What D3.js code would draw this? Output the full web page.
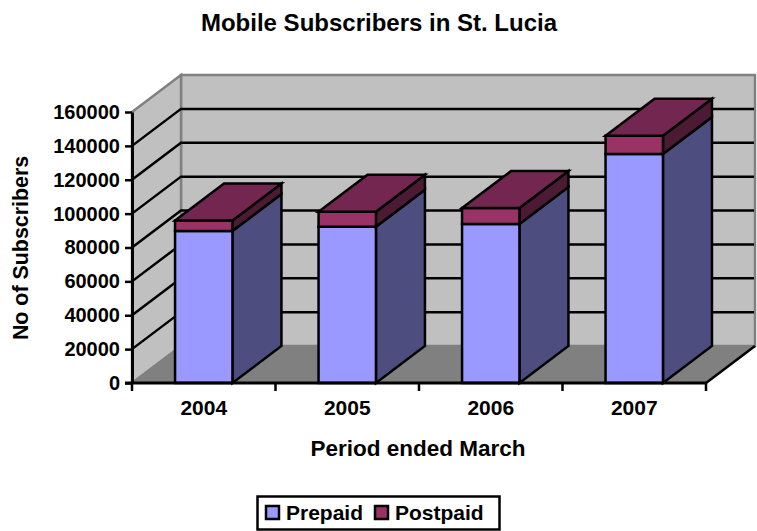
<!DOCTYPE html>
<html>
<head>
<meta charset="utf-8">
<script src="https://cdnjs.cloudflare.com/ajax/libs/d3/7.8.5/d3.min.js"></script>
<style>
html, body { margin: 0; padding: 0; background: #fff; }
svg { display: block; }
text { font-family: "Liberation Sans", Arial, sans-serif; font-weight: bold; fill: #000; }
.yAxis .tick text { font-size: 20px; }
.xAxis .tick text { font-size: 21px; }
</style>
</head>
<body>
<div id="chart"></div>
<script>
var years = ["2004", "2005", "2006", "2007"];
var prepaid = [89700, 92300, 93900, 135200];
var postpaid = [6200, 8800, 9400, 10800];
var yTicks = [0, 20000, 40000, 60000, 80000, 100000, 120000, 140000, 160000];
var seriesNames = ["Prepaid", "Postpaid"];

var width = 757, height = 531;

// front plane of the 3d box and how far the back wall is shifted from it
var plot = {left: 132, right: 706, top: 112, bottom: 383};
var depth = {x: 49, y: -37};
var lineWidth = 2.5;

var colors = {
    prepaid: {front: "#9999ff", side: "#4d4d80"},
    postpaid: {front: "#993366", side: "#4d1a33", top: "#732650"}
};

var svg = d3.select("#chart").append("svg")
    .attr("width", width)
    .attr("height", height);

var x = d3.scaleBand()
    .domain(years)
    .range([plot.left, plot.right])
    .paddingInner(0.6)
    .paddingOuter(0.3);

var y = d3.scaleLinear()
    .domain([0, 160000])
    .range([plot.bottom, plot.top]);

function poly(points) {
    return points.map(function (p) { return p.join(","); }).join(" ");
}

// Walls and floor
var yMin = y(0), yMax = y(160000);

svg.append("polygon")
    .attr("points", poly([[plot.left + depth.x, yMax + depth.y], [plot.right + depth.x, yMax + depth.y],
        [plot.right + depth.x, yMin + depth.y], [plot.left + depth.x, yMin + depth.y]]))
    .attr("fill", "#c0c0c0")
    .attr("stroke", "#808080")
    .attr("stroke-width", 2.5);

svg.append("polygon")
    .attr("points", poly([[plot.left, yMax], [plot.left + depth.x, yMax + depth.y],
        [plot.left + depth.x, yMin + depth.y], [plot.left, yMin]]))
    .attr("fill", "#c0c0c0")
    .attr("stroke", "#808080")
    .attr("stroke-width", 2.5);

svg.append("polygon")
    .attr("points", poly([[plot.left, yMin], [plot.right, yMin],
        [plot.right + depth.x, yMin + depth.y], [plot.left + depth.x, yMin + depth.y]]))
    .attr("fill", "#808080");

// Gridlines on the left and back walls
var gridValues = yTicks.slice(1, -1);

svg.selectAll(".grid").data(gridValues)
    .enter()
    .append("polyline")
    .attr("class", "grid")
    .attr("points", function (d) {
        return poly([[plot.left, y(d)], [plot.left + depth.x, y(d) + depth.y], [plot.right + depth.x - 1, y(d) + depth.y]]);
    })
    .attr("fill", "none")
    .attr("stroke", "#000")
    .attr("stroke-width", lineWidth);

// Front edge of the floor on the right
svg.append("line")
    .attr("x1", plot.right)
    .attr("y1", yMin)
    .attr("x2", plot.right + depth.x)
    .attr("y2", yMin + depth.y)
    .attr("stroke", "#000")
    .attr("stroke-width", lineWidth);

// Bars
var bars = svg.selectAll(".bar").data(years)
    .enter()
    .append("g")
    .attr("class", "bar");

function face(sel, fill, pointsFn) {
    sel.append("polygon")
        .attr("points", pointsFn)
        .attr("fill", fill)
        .attr("stroke", "#000")
        .attr("stroke-width", lineWidth)
        .attr("stroke-linejoin", "miter");
}

function frontFace(lo, hi) {
    return function (d, i) {
        var x0 = x(d), x1 = x(d) + x.bandwidth();
        return poly([[x0, y(hi(i))], [x1, y(hi(i))], [x1, y(lo(i))], [x0, y(lo(i))]]);
    };
}

function sideFace(lo, hi) {
    return function (d, i) {
        var x1 = x(d) + x.bandwidth();
        return poly([[x1, y(hi(i))], [x1 + depth.x, y(hi(i)) + depth.y],
            [x1 + depth.x, y(lo(i)) + depth.y], [x1, y(lo(i))]]);
    };
}

function topFace(hi) {
    return function (d, i) {
        var x0 = x(d), x1 = x(d) + x.bandwidth();
        return poly([[x0, y(hi(i))], [x1, y(hi(i))],
            [x1 + depth.x, y(hi(i)) + depth.y], [x0 + depth.x, y(hi(i)) + depth.y]]);
    };
}

var zero = function () { return 0; };
var prepaidTop = function (i) { return prepaid[i]; };
var totalTop = function (i) { return prepaid[i] + postpaid[i]; };

face(bars, colors.prepaid.side, sideFace(zero, prepaidTop));
face(bars, colors.prepaid.front, frontFace(zero, prepaidTop));
face(bars, colors.postpaid.side, sideFace(prepaidTop, totalTop));
face(bars, colors.postpaid.front, frontFace(prepaidTop, totalTop));
face(bars, colors.postpaid.top, topFace(totalTop));

// Y axis
var yAxis = d3.axisLeft(y)
    .tickValues(yTicks)
    .tickFormat(d3.format("d"))
    .tickSize(7)
    .tickSizeOuter(0)
    .tickPadding(5);

var yAxisG = svg.append("g")
    .attr("class", "yAxis")
    .attr("transform", "translate(" + plot.left + ",0)")
    .call(yAxis);
yAxisG.select(".domain").attr("stroke-width", 3);
yAxisG.selectAll(".tick line").attr("stroke-width", lineWidth);

// X axis, labels centred on the bars and tick marks between the categories
var xAxis = d3.axisBottom(x)
    .tickSize(0)
    .tickPadding(17);

var xAxisG = svg.append("g")
    .attr("class", "xAxis")
    .attr("transform", "translate(0," + plot.bottom + ")")
    .call(xAxis);
xAxisG.select(".domain").remove();

svg.append("line")
    .attr("x1", plot.left - 7)
    .attr("x2", plot.right)
    .attr("y1", plot.bottom)
    .attr("y2", plot.bottom)
    .attr("stroke", "#000")
    .attr("stroke-width", 3);

svg.selectAll(".xTick").data(d3.range(years.length + 1))
    .enter()
    .append("line")
    .attr("class", "xTick")
    .attr("x1", function (i) { return plot.left + i * x.step(); })
    .attr("x2", function (i) { return plot.left + i * x.step(); })
    .attr("y1", plot.bottom)
    .attr("y2", plot.bottom + 8)
    .attr("stroke", "#000")
    .attr("stroke-width", lineWidth);

// Titles
svg.append("text")
    .text("Mobile Subscribers in St. Lucia")
    .attr("x", 379)
    .attr("y", 31)
    .attr("text-anchor", "middle")
    .style("font-size", "24px");

svg.append("text")
    .text("Period ended March")
    .attr("x", 418)
    .attr("y", 456)
    .attr("text-anchor", "middle")
    .style("font-size", "22.5px");

svg.append("text")
    .text("No of Subscribers")
    .attr("transform", "translate(28,248) rotate(-90)")
    .attr("text-anchor", "middle")
    .style("font-size", "21.4px");

// Legend
svg.append("rect")
    .attr("x", 257.5)
    .attr("y", 496.5)
    .attr("width", 242)
    .attr("height", 33)
    .attr("fill", "#fff")
    .attr("stroke", "#000")
    .attr("stroke-width", lineWidth);

var legendX = d3.scaleOrdinal().domain(seriesNames).range([266, 375]);
var legendFill = d3.scaleOrdinal().domain(seriesNames).range([colors.prepaid.front, colors.postpaid.front]);

var legend = svg.selectAll(".legendItem").data(seriesNames)
    .enter()
    .append("g")
    .attr("class", "legendItem")
    .attr("transform", function (d) { return "translate(" + legendX(d) + ",506)"; });

legend.append("rect")
    .attr("width", 13)
    .attr("height", 13)
    .attr("fill", function (d) { return legendFill(d); })
    .attr("stroke", "#000")
    .attr("stroke-width", lineWidth);

legend.append("text")
    .text(function (d) { return d; })
    .attr("x", 20)
    .attr("y", 14)
    .style("font-size", "21px");
</script>
</body>
</html>
